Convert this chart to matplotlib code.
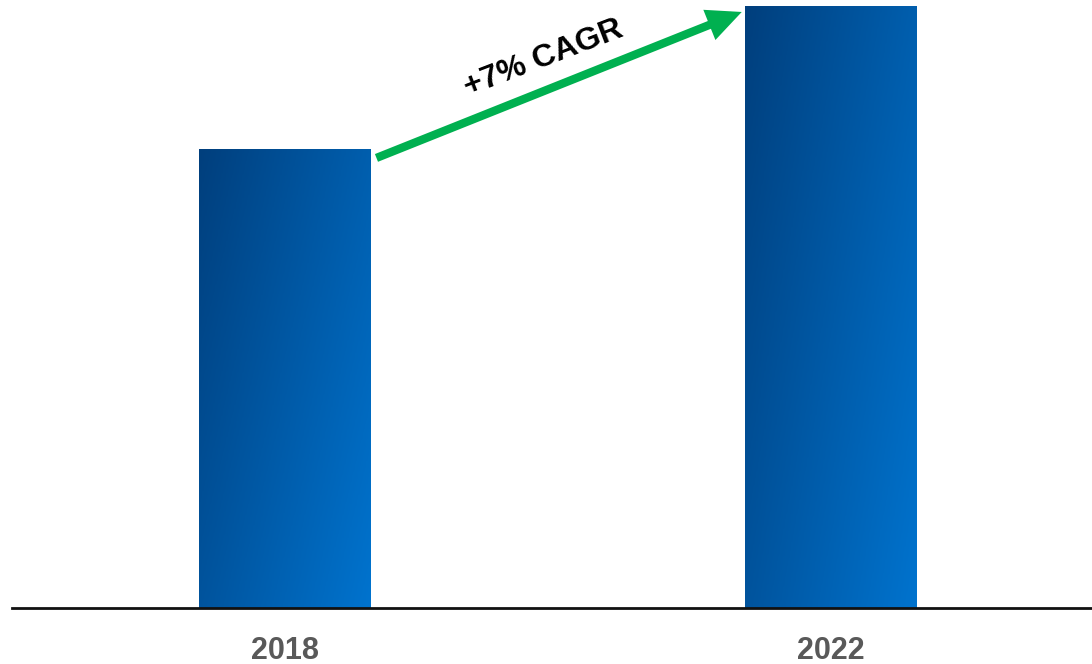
import numpy as np
import matplotlib
matplotlib.use("Agg")
from matplotlib import pyplot as plt
from matplotlib.colors import LinearSegmentedColormap

YEARS = ["2018", "2022"]
VALUES = [100.0, 131.08]
CAGR_LABEL = "+7% CAGR"

BAR_WIDTH = 0.315
DARK_BLUE = "#003F7D"
LIGHT_BLUE = "#0073CE"
ARROW_GREEN = "#00B050"
LABEL_GRAY = "#595959"

plt.rcParams["font.family"] = ["Liberation Sans", "DejaVu Sans"]


def gradient_bar(ax, x, h, cmap):
    # diagonal gradient: dark at top-left, bright at bottom-right
    xs = np.linspace(0, 1, 64)
    ys = np.linspace(0, 1, 256)
    gx, gy = np.meshgrid(xs, ys)
    t = 0.6 * gx + 0.4 * (1 - gy)
    x0 = x - BAR_WIDTH / 2
    rect = ax.bar(x, h, width=BAR_WIDTH, color="none", edgecolor="none")[0]
    im = ax.imshow(t, cmap=cmap, extent=[x0, x0 + BAR_WIDTH, h, 0],
                   aspect="auto", vmin=0, vmax=1, zorder=2)
    im.set_clip_path(rect)


def main():
    fig = plt.figure(figsize=(10.92, 6.64), dpi=100)
    ax = fig.add_axes([12 / 1092, 56 / 664, 1080 / 1092, 608 / 664])
    cmap = LinearSegmentedColormap.from_list("bars", [DARK_BLUE, LIGHT_BLUE])

    xpos = np.arange(len(YEARS))
    for x, v in zip(xpos, VALUES):
        gradient_bar(ax, x, v, cmap)

    ax.set_xlim(-0.5, 1.478)
    ax.set_ylim(0, VALUES[1] * 608 / 602)

    for s in ["top", "right", "left"]:
        ax.spines[s].set_visible(False)
    ax.spines["bottom"].set_linewidth(2)
    ax.spines["bottom"].set_color("#111111")
    ax.set_yticks([])
    ax.set_xticks(xpos)
    ax.set_xticklabels(YEARS, fontsize=22, fontweight="bold", color=LABEL_GRAY)
    ax.tick_params(axis="x", length=0, pad=20)

    # growth arrow between the two bar tops
    start = (xpos[0] + BAR_WIDTH / 2 + 0.01, VALUES[0] - 2.0)
    end = (xpos[1] - BAR_WIDTH / 2 - 0.006, VALUES[1] - 1.3)
    ax.annotate("", xy=end, xytext=start,
                arrowprops=dict(arrowstyle="-|>,head_length=1.5,head_width=0.7",
                                color=ARROW_GREEN, lw=6, shrinkA=0, shrinkB=0,
                                capstyle="butt", joinstyle="miter"),
                zorder=3)
    ax.text(0.474, 119.6, CAGR_LABEL, fontsize=23, fontweight="bold",
            rotation=21.0, ha="center", va="center", color="black",
            rotation_mode="anchor")

    fig.savefig("out.png", dpi=100)
    plt.close(fig)


if __name__ == "__main__":
    main()
